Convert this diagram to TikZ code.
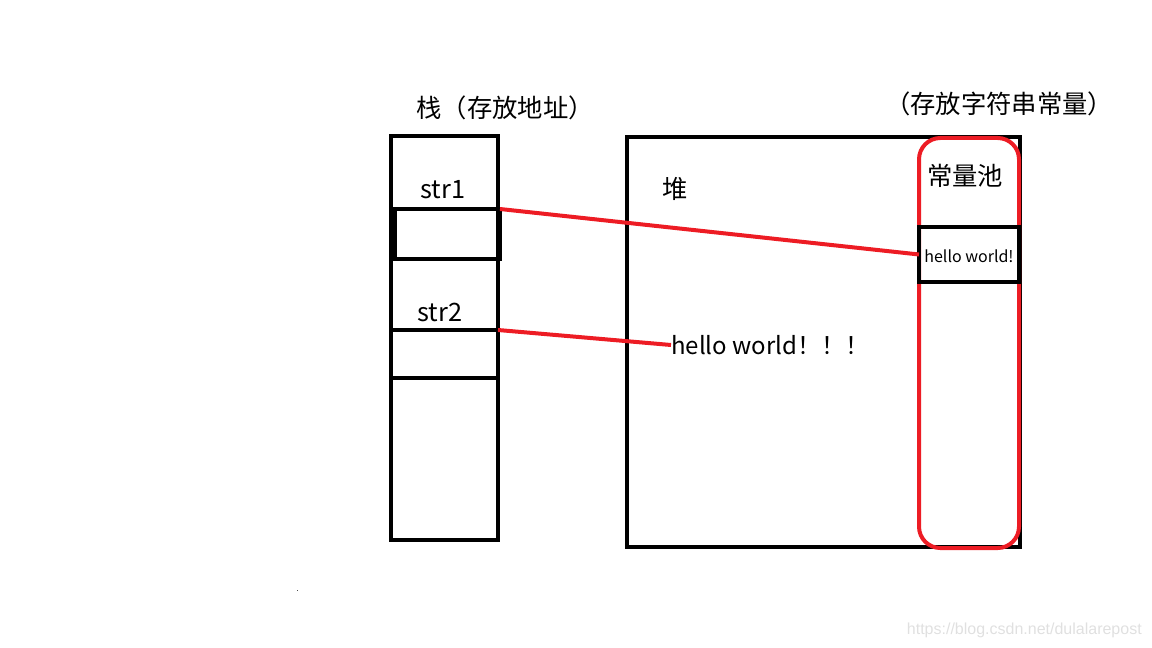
\documentclass[tikz,border=0pt]{standalone}
\usepackage{fontspec}
\setmainfont{Noto Sans CJK SC}
\newfontfamily\wmfont{Liberation Sans}
\begin{document}
\begin{tikzpicture}[x=0.75pt,y=-0.75pt,
  blk/.style={draw=black,line width=3pt,outer sep=0pt,inner sep=0pt,anchor=north west},
  redline/.style={draw={rgb,255:red,237;green,28;blue,36},line width=3pt},
  lbl/.style={inner sep=0pt,font=\fontsize{19}{22}\selectfont}]
\useasboundingbox (0,0) rectangle (1152,648);
% stack
\node[blk,minimum width=107*0.75pt,minimum height=404*0.75pt] (stack) at (391,136) {};
\node[blk,minimum width=105*0.75pt,minimum height=50*0.75pt] (cell1) at (395,209) {};
\node[blk,minimum width=107*0.75pt,minimum height=48*0.75pt] (cell2) at (391,330) {};
\node[lbl] (s1) at (443,190) {str1};
\node[lbl] (s2) at (440,312) {str2};
\node[lbl] (stacktitle) at (505,108) {栈（存放地址）};
% heap
\node[blk,minimum width=393*0.75pt,minimum height=410*0.75pt] (heap) at (627,137) {};
\node[lbl] (heaplbl) at (675,189) {堆};
\node[lbl,anchor=west,font=\fontsize{18}{21}\selectfont] (hw) at (671,345) {hello world！！！};
% pool
\draw[redline,rounded corners=16pt] (919,138) rectangle (1019,548);
\node[blk,minimum width=100*0.75pt,minimum height=55*0.75pt] (pcell) at (919,227) {};
\node[inner sep=0pt,font=\fontsize{12}{14}\selectfont] (phw) at (969,256) {hello world!};
\node[lbl] (poollbl) at (965,176) {常量池};
\node[lbl] (pooltitle) at (999,104) {（存放字符串常量）};
% connectors
\draw[redline] (cell1.north east) -- (pcell.west);
\draw[redline] (cell2.north east) -- (hw.west);
% misc
\fill[black!70] (296.5,589.5) rectangle (298,591) coordinate (dot);
\node[inner sep=0pt,anchor=east,font=\wmfont\fontsize{12}{14}\selectfont,text=black!12] (wm) at (1142,630) {https://blog.csdn.net/dulalarepost};
\end{tikzpicture}
\end{document}
